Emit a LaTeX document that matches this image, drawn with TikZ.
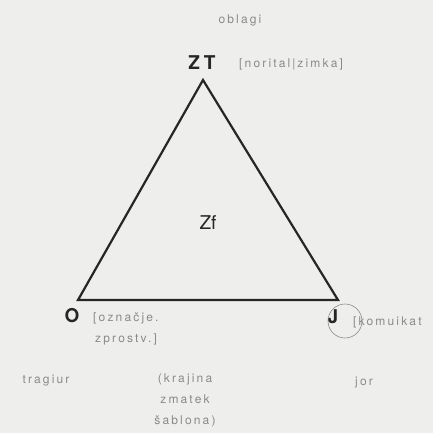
\documentclass[tikz,border=0pt]{standalone}
\usepackage{fontspec}
\setsansfont{TeX Gyre Heros}
\newfontfamily\pencilfont[LetterSpace=18]{TeX Gyre Heros}
\usepackage{xcolor}
\usetikzlibrary{positioning,calc}
\definecolor{paper}{HTML}{EEEEEC}
\definecolor{pencil}{HTML}{8A8A8A}

\begin{document}
\begin{tikzpicture}[x=1pt,y=-1pt,
 v/.style={font=\sffamily\fontsize{19}{19}\selectfont,text=black!85,inner sep=1pt},
 note/.style={font=\pencilfont\fontsize{12}{21}\selectfont,text=pencil,align=left,inner sep=1pt}]
\fill[paper] (0,0) rectangle (433,433);
\useasboundingbox (0,0) rectangle (433,433);
% vertices
\coordinate (zt) at (203,80);
\coordinate (o) at (78,300);
\coordinate (j) at (338,300);
\draw[line width=2.2pt,line join=miter,black!85] (zt) -- (o) -- (j) -- cycle;
\node[v] (ztl) at (202,63) {\textbf{Z\hspace{4pt}T}};
\node[v] (ol) at (72,316) {\textbf{O}};
\node[v] (jl) at (333,317) {\textbf{J}};
\node[v] (zf) at (208,223) {Zf};
% pencil notes
\node[note] (top) at (240,20) {oblagi};
\node[note,anchor=west] (ztn) at (238,64) {[norital\,|\,zimka]};
\node[note,anchor=north west] (on) at (92,312) {[označje.\\\,zprostv.]};
\node[note,anchor=west] (jn) at (352,322) {[komuikat};
\draw[pencil,line width=0.6pt] (345,321) circle (17);
\node[note] (tr) at (46,381) {tragiur};
\node[note,align=center] (kr) at (185,400) {(krajina\\ zmatek\\ šablona)};
\node[note] (jo) at (364,383) {jor};
\end{tikzpicture}
\end{document}
